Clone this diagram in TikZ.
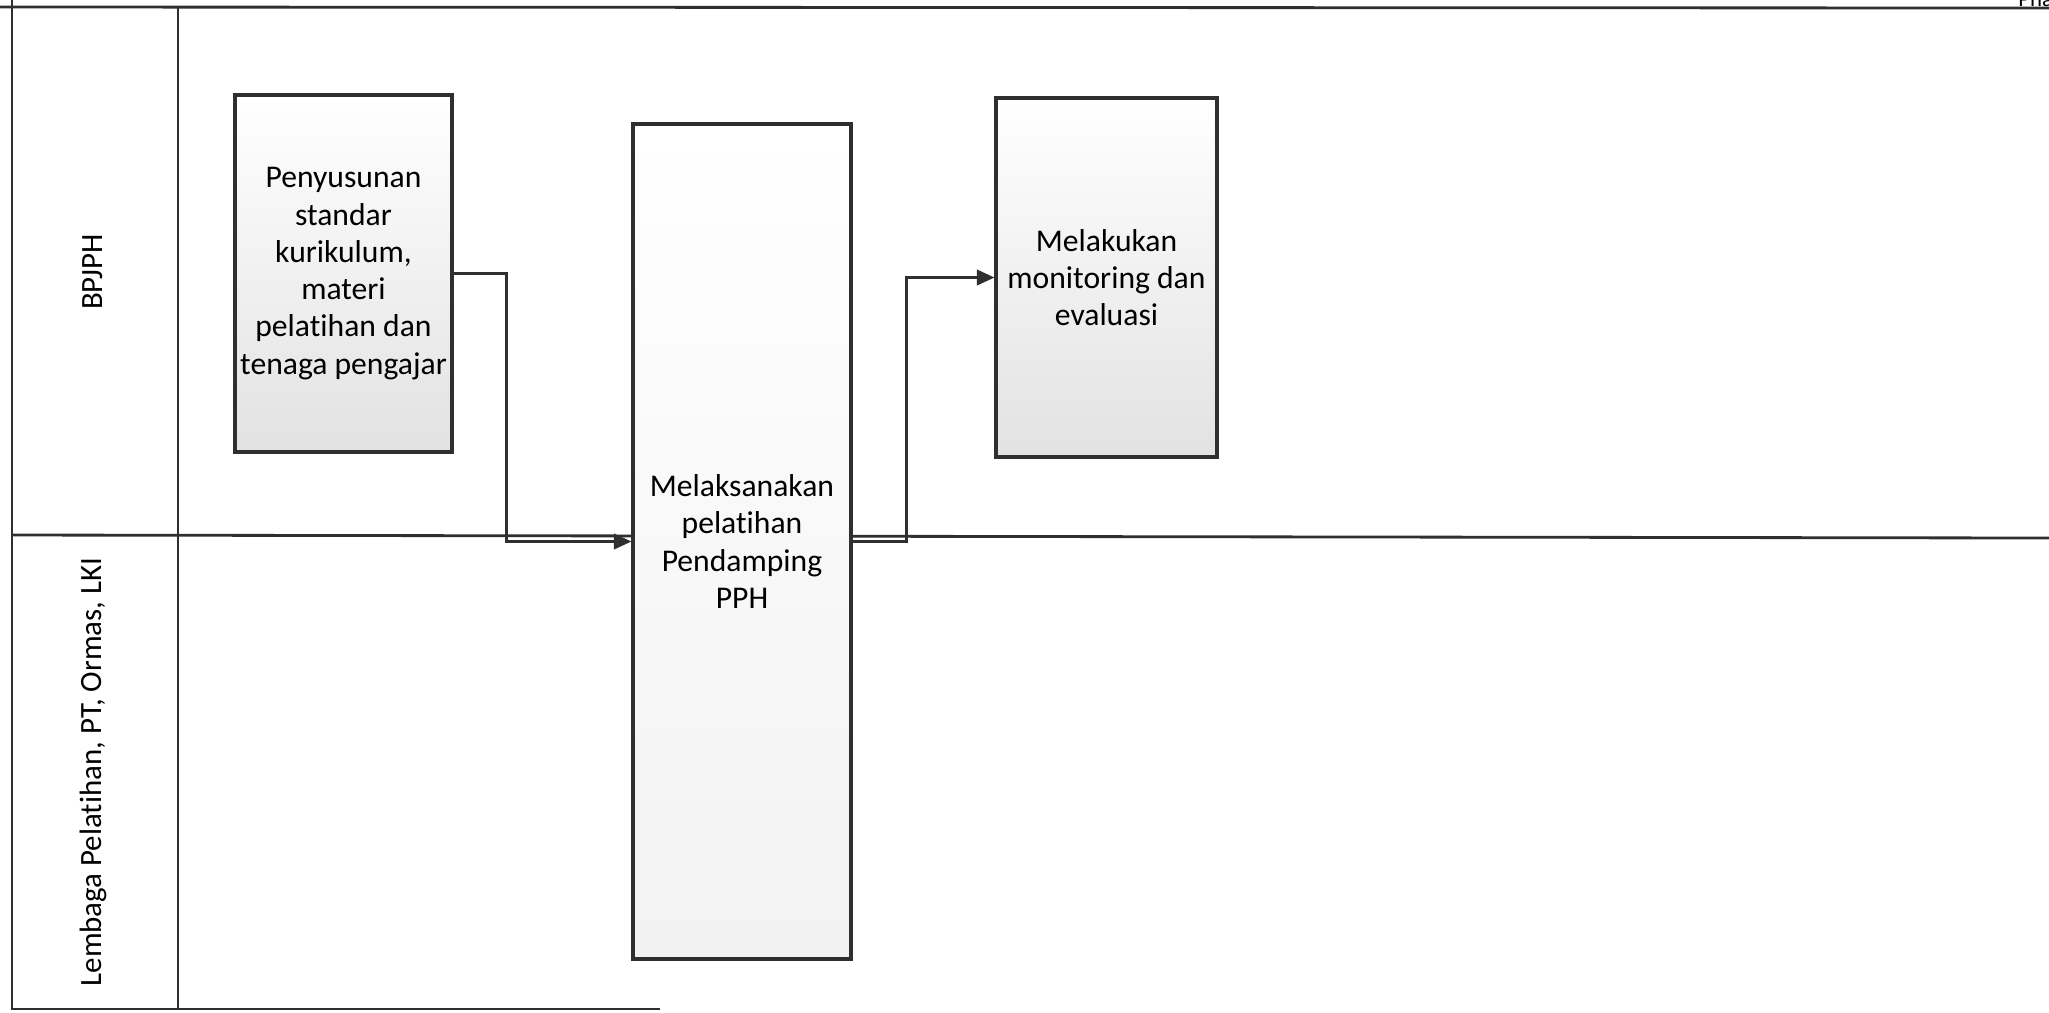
\documentclass[tikz,border=0pt]{standalone}
\usepackage{fontspec}
\setmainfont{Carlito}[Ligatures=NoCommon]
\usetikzlibrary{arrows.meta,positioning}
\definecolor{linegray}{HTML}{2F2F2F}
\definecolor{shadegray}{HTML}{E2E2E2}

\begin{document}
\begin{tikzpicture}[
  >={Triangle[length=5pt,width=4.4pt]},
  line width=0.8pt,
  flow/.style={->, draw=linegray, line width=0.75pt},
  lane/.style={draw=linegray, line width=0.8pt},
  task/.style={draw=linegray, line width=0.9pt, align=center, inner sep=0.5pt, top color=white, bottom color=shadegray, font=\fontsize{9}{10.6}\selectfont},
  lanelabel/.style={rotate=90, inner sep=1pt, font=\fontsize{8.8}{10.4}\selectfont}
]
  \useasboundingbox (0,0) rectangle (20.49,-10.12);
  \fill[white] (0,0) rectangle (20.49,-10.12);

  \draw[lane] (0,-0.07) -- (20.49,-0.08);
  \draw[lane] (0.12,0) -- (0.12,-10.09) -- (6.6,-10.09);
  \draw[lane] (1.78,-0.07) -- (1.78,-10.09);
  \draw[lane] (0.12,-5.35) -- (20.49,-5.38);

  \node[lanelabel] (bpjph) at (0.93,-2.72) {BPJPH};
  \node[lanelabel] (lembaga) at (0.93,-7.72) {Lembaga Pelatihan, PT, Ormas, LKI};

  \begin{scope}
    \clip (0,0) rectangle (20.49,-10.12);
    \node[anchor=base west, inner sep=0pt, font=\fontsize{6.5}{7}\selectfont] (phase) at (20.17,-0.06) {Phase};
  \end{scope}

  \node[task, minimum width=2.17cm, minimum height=3.57cm] (penyusunan) at (3.435,-2.735)
    {Penyusunan\\standar\\kurikulum,\\materi\\pelatihan dan\\tenaga pengajar};
  \node[task, bottom color=shadegray!45, minimum width=2.18cm, minimum height=8.35cm] (pelaksanaan) at (7.42,-5.415)
    {Melaksanakan\\pelatihan\\Pendamping\\PPH};
  \node[task, minimum width=2.21cm, minimum height=3.59cm] (monitoring) at (11.065,-2.775)
    {Melakukan\\monitoring dan\\evaluasi};

  \draw[flow] (penyusunan.east) -- ++(0.53,0) |- (pelaksanaan.west);
  \draw[flow] (pelaksanaan.east) -- ++(0.54,0) |- (monitoring.west);
\end{tikzpicture}
\end{document}
